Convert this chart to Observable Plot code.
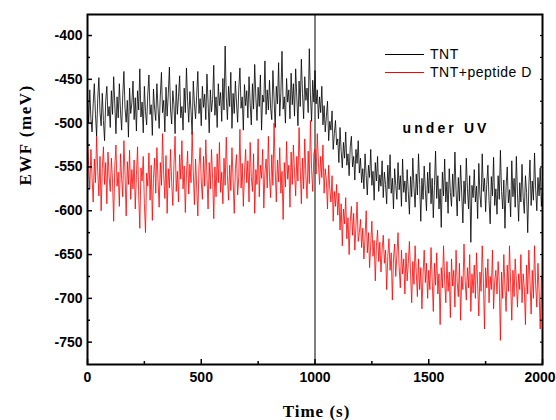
<!DOCTYPE html>
<html><head><meta charset="utf-8">
<script src="https://cdn.jsdelivr.net/npm/d3@7"></script>
<script src="https://cdn.jsdelivr.net/npm/@observablehq/plot@0.6"></script>
<style>
body{margin:0;background:#fff;}
#chart{position:relative;width:556px;height:420px;}
.leg{position:absolute;left:385px;height:16px;font-family:"Liberation Sans",Arial,sans-serif;font-size:14px;letter-spacing:0.5px;display:flex;align-items:center;color:#000;}
.leg .sw{display:inline-block;width:39px;height:0;border-top:1px solid;margin-right:6px;}
</style></head><body><div id="chart"></div>
<script>
// Time axis (s), sampled every 5 s
const times = d3.range(0, 2001, 5);
// EWF (meV) of TNT
const tnt = [
-470,-500,-462,-495,-510,-478,-455,-490,-515,-472,-448,-488,-503,-466,-497,-520,-475,-458,-492,-481,
-505,-463,-490,-447,-478,-512,-470,-494,-455,-486,-508,-468,-441,-483,-499,-474,-516,-460,-489,-477,
-452,-496,-471,-509,-463,-485,-438,-493,-476,-511,-458,-487,-502,-467,-445,-490,-479,-514,-461,-484,
-497,-455,-483,-506,-469,-442,-488,-474,-510,-459,-492,-467,-436,-485,-501,-463,-479,-512,-456,-490,
-470,-446,-494,-481,-508,-460,-488,-437,-475,-499,-464,-486,-513,-452,-478,-495,-468,-441,-489,-472,
-503,-458,-482,-467,-496,-444,-476,-511,-462,-487,-473,-434,-491,-470,-505,-455,-480,-465,-498,-449,
-485,-412,-470,-496,-458,-481,-442,-506,-466,-489,-452,-477,-499,-461,-437,-483,-470,-508,-456,-480,
-463,-494,-447,-478,-502,-455,-484,-433,-470,-497,-459,-481,-445,-508,-468,-476,-429,-490,-462,-485,
-451,-483,-496,-440,-472,-505,-458,-478,-431,-492,-465,-418,-484,-470,-500,-449,-476,-462,-495,-443,
-479,-455,-492,-438,-470,-503,-452,-481,-427,-466,-495,-447,-474,-460,-488,-415,-469,-498,-451,-476,
-440,-478,-462,-495,-470,-488,-458,-502,-480,-510,-492,-475,-520,-498,-508,-486,-530,-512,-497,-525,
-518,-545,-505,-532,-551,-522,-540,-510,-548,-535,-560,-527,-515,-550,-538,-565,-530,-546,-520,-557,
-540,-568,-552,-575,-535,-560,-582,-548,-562,-530,-571,-555,-588,-545,-566,-538,-578,-559,-572,-543,
-585,-556,-570,-592,-548,-575,-536,-580,-563,-598,-552,-571,-587,-545,-576,-560,-595,-541,-579,-566,
-590,-553,-578,-604,-561,-584,-540,-573,-596,-558,-582,-535,-570,-612,-563,-587,-549,-576,-600,-556,
-580,-545,-592,-563,-608,-571,-532,-586,-560,-598,-575,-619,-556,-583,-541,-590,-567,-603,-552,-579,
-595,-558,-584,-533,-577,-606,-562,-589,-548,-581,-614,-566,-592,-540,-575,-598,-560,-636,-571,-585,
-553,-590,-572,-609,-546,-582,-596,-535,-578,-563,-601,-570,-548,-588,-615,-561,-583,-539,-594,-575,
-604,-560,-587,-531,-578,-598,-565,-620,-572,-550,-591,-576,-607,-543,-584,-563,-596,-538,-580,-612,
-568,-590,-547,-585,-603,-560,-579,-625,-571,-542,-594,-566,-588,-534,-576,-600,-562,-583,-551,-595,
-578];
// EWF (meV) of TNT+peptide D
const tntPeptide = [
-520,-548,-575,-530,-562,-590,-541,-568,-515,-555,-583,-538,-600,-552,-527,-570,-545,-592,-533,-561,
-578,-540,-566,-612,-549,-525,-572,-556,-595,-535,-563,-584,-520,-558,-606,-544,-570,-531,-587,-553,
-575,-542,-598,-560,-527,-583,-620,-551,-566,-538,-592,-625,-557,-572,-534,-588,-548,-611,-563,-540,
-580,-528,-565,-596,-545,-571,-512,-559,-586,-537,-603,-552,-574,-530,-568,-594,-547,-515,-578,-555,
-590,-536,-564,-520,-575,-549,-602,-558,-532,-581,-547,-568,-510,-556,-593,-541,-573,-606,-550,-528,
-566,-587,-538,-572,-519,-560,-598,-545,-575,-530,-563,-609,-550,-584,-535,-568,-522,-579,-556,-592,
-540,-571,-516,-560,-588,-548,-577,-528,-565,-603,-552,-536,-582,-561,-507,-574,-546,-595,-557,-530,
-568,-543,-590,-522,-561,-578,-535,-603,-553,-570,-518,-584,-548,-563,-530,-597,-556,-541,-574,-515,
-562,-585,-536,-571,-500,-553,-590,-542,-567,-528,-580,-555,-610,-545,-573,-521,-564,-548,-596,-533,
-570,-525,-556,-583,-538,-566,-505,-551,-592,-540,-575,-518,-560,-586,-532,-569,-497,-553,-578,-535,
-530,-558,-512,-545,-570,-538,-562,-525,-580,-552,-566,-598,-548,-575,-590,-560,-612,-578,-595,-570,
-605,-580,-622,-592,-640,-598,-615,-585,-632,-608,-650,-612,-595,-628,-603,-645,-618,-590,-635,-625,
-610,-642,-620,-655,-630,-600,-648,-625,-665,-638,-612,-652,-634,-680,-640,-622,-658,-636,-670,-645,
-628,-660,-645,-690,-652,-632,-668,-648,-702,-655,-638,-675,-650,-625,-665,-688,-645,-672,-655,-695,
-648,-680,-660,-635,-672,-705,-658,-684,-640,-670,-698,-655,-690,-665,-712,-672,-645,-682,-660,-700,
-668,-690,-642,-678,-715,-660,-685,-648,-695,-672,-730,-665,-688,-640,-680,-705,-658,-692,-670,-722,
-655,-686,-668,-710,-645,-682,-698,-660,-725,-675,-690,-638,-680,-702,-665,-688,-650,-715,-672,-694,
-662,-700,-648,-685,-720,-670,-692,-640,-678,-735,-665,-688,-655,-705,-675,-690,-645,-712,-680,-668,
-695,-658,-682,-748,-670,-700,-650,-688,-715,-662,-692,-640,-684,-725,-668,-698,-655,-680,-710,-672,
-690,-650,-705,-672,-688,-730,-662,-695,-645,-680,-718,-668,-700,-640,-685,-710,-660,-692,-735,-675,
-680];
const seriesNames = ["TNT", "TNT+peptide D"];
const uvOn = [1000];
const xMajor = [0, 500, 1000, 1500, 2000];
const xMinor = [250, 750, 1250, 1750];
const yMajor = [-750, -700, -650, -600, -550, -500, -450, -400];
const yMinor = [-725, -675, -625, -575, -525, -475, -425];
const annotation = ["under UV"];
const xTitle = ["Time (s)"];
const yTitle = ["EWF (meV)"];

const tntRows = times.map((t, i) => ({t, v: tnt[i]}));
const pepRows = times.map((t, i) => ({t, v: tntPeptide[i]}));
const fmt = d => String(d);
const serif = "Liberation Serif, Times New Roman, serif";
const xLast = xMajor.slice(-1);
const xRest = xMajor.slice(0, -1);

const plot = Plot.plot({
  width: 556, height: 420,
  marginLeft: 87, marginRight: 14, marginTop: 14, marginBottom: 56,
  x: {domain: [0, 2000]},
  y: {domain: [-775.5, -376]},
  style: {fontFamily: "Liberation Sans, Arial, sans-serif", fontSize: "14px", fontWeight: "bold", color: "#000", background: "#fff"},
  marks: [
    Plot.ruleX(uvOn, {stroke: "#000", strokeWidth: 1}),
    Plot.line(tntRows, {x: "t", y: "v", stroke: "#000", strokeWidth: 0.8}),
    Plot.line(pepRows, {x: "t", y: "v", stroke: "#ff0000", strokeWidth: 0.8}),
    Plot.frame({stroke: "#000", strokeWidth: 2}),
    Plot.axisY(yMajor, {tickSize: 5, dx: 5, fill: "none", strokeWidth: 1.5, label: null}),
    Plot.axisY(yMinor, {tickSize: 3, dx: 3, fill: "none", strokeWidth: 1.5, label: null}),
    Plot.axisY(yMajor.concat(yMinor), {anchor: "right", tickSize: 3, dx: -3, fill: "none", strokeWidth: 1.2, label: null}),
    Plot.axisY(yMajor, {tickSize: 0, tickPadding: 5, tickFormat: fmt, label: null, fontSize: 14, fontWeight: "bold"}),
    Plot.axisX(xMajor, {tickSize: 5, dy: -5, fill: "none", strokeWidth: 1.5, label: null}),
    Plot.axisX(xMinor, {tickSize: 3, dy: -3, fill: "none", strokeWidth: 1.5, label: null}),
    Plot.axisX(xRest, {tickSize: 0, tickPadding: 8, tickFormat: fmt, label: null, fontSize: 14, fontWeight: "bold"}),
    Plot.axisX(xLast, {tickSize: 0, tickPadding: 8, dx: -2.5, tickFormat: fmt, label: null, fontSize: 14, fontWeight: "bold"}),
    Plot.text(annotation, {text: d => d, frameAnchor: "top-left", dx: 315, dy: 114, textAnchor: "start", lineAnchor: "middle", fontSize: 14, fontWeight: "bold"}),
    Plot.text(xTitle, {text: d => d, frameAnchor: "bottom", dx: 1.5, dy: 47, lineAnchor: "middle", fontFamily: serif, fontSize: 17, fontWeight: "bold"}),
    Plot.text(yTitle, {text: d => d, frameAnchor: "left", dx: -62, dy: -4, rotate: -90, lineAnchor: "middle", fontFamily: serif, fontSize: 17, fontWeight: "bold"})
  ]
});
plot.querySelectorAll("text").forEach(el => {
  const s = el.textContent;
  if (s === annotation[0]) el.style.letterSpacing = "3.1px";
  if (s === xTitle[0]) el.style.letterSpacing = "1px";
  if (s === yTitle[0]) el.style.letterSpacing = "1.5px";
});
const chart = document.getElementById("chart");
chart.appendChild(plot);
const colors = ["#000", "#ff0000"];
const tops = [46, 64];
seriesNames.forEach((name, i) => {
  const d = document.createElement("div");
  d.className = "leg";
  d.style.top = tops[i] + "px";
  const sw = document.createElement("span");
  sw.className = "sw";
  sw.style.borderTopColor = colors[i];
  d.appendChild(sw);
  d.appendChild(document.createTextNode(name));
  chart.appendChild(d);
});
</script></body></html>
